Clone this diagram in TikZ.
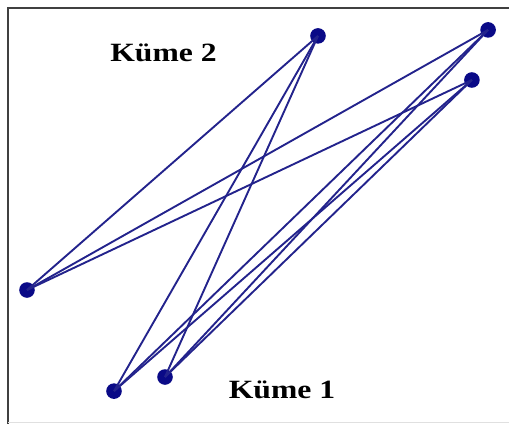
\documentclass[tikz,border=0pt]{standalone}
\usepackage{fontspec}
\setmainfont{Liberation Serif}
\usetikzlibrary{positioning}

\definecolor{navyline}{RGB}{35,35,140}
\definecolor{navydot}{RGB}{10,10,135}

\begin{document}
\begin{tikzpicture}[
    point/.style={circle, fill=navydot, inner sep=0pt, minimum size=0.52cm},
    edge/.style={draw=navyline, line width=1.8pt},
    cluster/.style={font=\fontsize{25}{28}\selectfont\bfseries, xscale=1.2, transform shape}
]

\useasboundingbox (0,0) rectangle (17,14.1667);

% -------------------------
% Frame
% -------------------------
\draw[black!75, line width=1.6pt] (0.27,0.05) -- (0.27,13.9) -- (16.95,13.9);
\draw[black!12, line width=1pt] (0.27,0.08) -- (16.95,0.08);

% -------------------------
% Points (Kume 2, top)
% -------------------------
\node[point] (A) at (10.6, 12.97) {};
\node[point] (B) at (16.27, 13.17) {};
\node[point] (C) at (15.73, 11.5) {};

% -------------------------
% Points (Kume 1, bottom)
% -------------------------
\node[point] (D) at (0.9, 4.5) {};
\node[point] (E) at (3.8, 1.13) {};
\node[point] (F) at (5.5, 1.6) {};

% -------------------------
% Labels
% -------------------------
\node[cluster] (K2) at (5.45, 12.4) {Küme 2};
\node[cluster] (K1) at (9.4, 1.17) {Küme 1};

% -------------------------
% Links
% -------------------------
\foreach \s in {D, E, F} {
    \foreach \t in {A, B, C} {
        \draw[edge] (\s.center) -- (\t.center);
    }
}

\end{tikzpicture}
\end{document}
